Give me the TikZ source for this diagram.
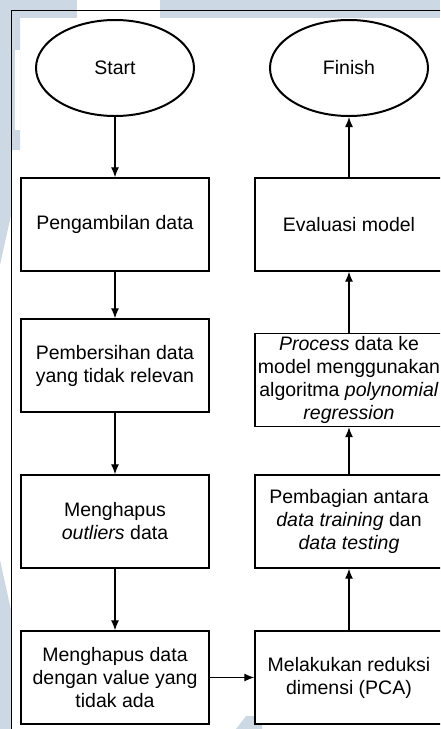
\documentclass[tikz,border=0pt]{standalone}
\usepackage{fontspec}
\setmainfont{Liberation Sans}
\usetikzlibrary{shapes.geometric,arrows.meta}
\definecolor{wmblue}{RGB}{204,216,227}
\begin{document}
\begin{tikzpicture}[x=1pt, y=-1pt, >={Latex[length=10pt,width=8pt]},
            every node/.style={font=\fontsize{19.5}{23}\selectfont},
            term/.style={ellipse, draw, line width=2pt, fill=white, minimum width=158pt, minimum height=96pt, inner sep=0pt},
            proc/.style={rectangle, draw, line width=1.4pt, fill=white, minimum width=188pt, minimum height=93pt, inner sep=0pt, align=center},
            flow/.style={->, line width=1.3pt}]
            \clip (0,0) rectangle (440,729);
            \fill[white] (0,0) rectangle (440,729);
            % watermark behind the page
            \fill[wmblue] (0,0) rectangle (77,18);
            \fill[wmblue] (160,0) rectangle (440,18);
            \fill[wmblue] (0,0) -- (20,0) -- (20,150) -- (11,150) -- (11,215) -- (0,265) -- cycle;
            \fill[white] (15,50) rectangle (20,130);
            \fill[wmblue] (0,560) -- (11,610) -- (11,729) -- (0,729) -- cycle;
            \fill[wmblue] (236,729) -- (246,716) -- (262,716) -- (262,729) -- cycle;
            % frame
            \draw[line width=1pt] (11,740) -- (11,10) -- (450,10);
            % left column
            \node[term] (start) at (115,68) {Start};
            \node[proc] (ambil) at (115,224.5) {Pengambilan data};
            \node[proc] (bersih) at (115,365.5) {Pembersihan data\\yang tidak relevan};
            \node[proc] (outlier) at (115,521.5) {Menghapus\\\textit{outliers} data};
            \node[proc] (kosong) at (115,677.5) {Menghapus data\\dengan value yang\\tidak ada};
            % right column
            \node[proc] (pca) at (349,677.5) {Melakukan reduksi\\dimensi (PCA)};
            \node[proc] (bagi) at (349,521.5) {Pembagian antara\\\textit{data training} dan\\\textit{data testing}};
            \node[proc] (proses) at (349,380) {\textit{Process} data ke\\model menggunakan\\algoritma \textit{polynomial}\\\textit{regression}};
            \node[proc] (evaluasi) at (349,224.5) {Evaluasi model};
            \node[term] (finish) at (349,68) {Finish};
            % arrows
            \draw[flow] (start) -- (ambil);
            \draw[flow] (ambil) -- (bersih);
            \draw[flow] (bersih) -- (outlier);
            \draw[flow] (outlier) -- (kosong);
            \draw[flow] (kosong) -- (pca);
            \draw[flow] (pca) -- (bagi);
            \draw[flow] (bagi) -- (proses);
            \draw[flow] (proses) -- (evaluasi);
            \draw[flow] (evaluasi) -- (finish);
        \end{tikzpicture}
\end{document}
